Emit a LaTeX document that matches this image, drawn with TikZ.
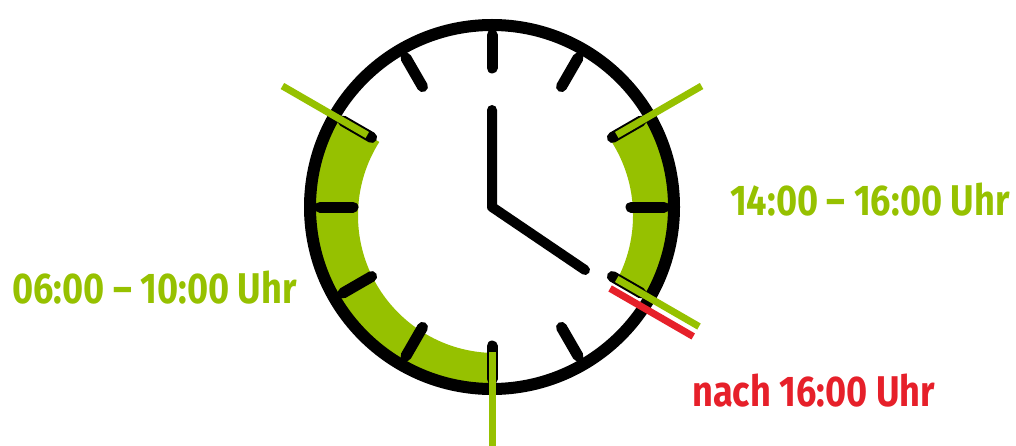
\documentclass[tikz,border=0pt]{standalone}
\usepackage{fontspec}
\setmainfont{Fira Sans}[FakeStretch=0.84]
\definecolor{bandgreen}{RGB}{150,193,0}
\definecolor{latered}{RGB}{230,32,42}
\tikzset{
  hourtick/.style={line width=11pt, line cap=round, black},
  hand/.style={line width=10pt, line cap=round, line join=round, black},
  limitline/.style={line width=7pt, bandgreen},
  timelabel/.style={anchor=base west, inner sep=0pt, font=\fontsize{43}{50}\selectfont\bfseries}
}
\begin{document}
\begin{tikzpicture}[x=1pt, y=1pt]
    \useasboundingbox (0,0) rectangle (1016,445);
    \begin{scope}[shift={(492,238)}]
        % Green bands
        \begin{scope}
            \clip (0,0) -- (150:260) arc (150:270:260) -- cycle;
            \fill[bandgreen, even odd rule] (0,0) circle (180) (3.5,-8.5) circle (137.5);
        \end{scope}
        \begin{scope}
            \clip (0,0) -- (-30:260) arc (-30:30:260) -- cycle;
            \fill[bandgreen, even odd rule] (0,0) circle (180) (3.5,-8.5) circle (137.5);
        \end{scope}

        % Clock face
        \draw[line width=12pt] (0,0) circle (182);
        \foreach \a in {0,30,...,330}
            \draw[hourtick] (\a:139) -- (\a:172);

        % Hands
        \draw[hand] (0,97) -- (0,0) -- (93,-63);

        % Limits of the time windows
        \foreach \a/\r in {150/242, 30/242, -30/239}
            \draw[limitline] (\a:144) -- (\a:\r);
        \draw[limitline] (270:145) -- (270:250);
        \begin{scope}[rotate=-30]
            \draw[limitline, latered] (143,-11.5) -- (239,-11.5);
        \end{scope}
    \end{scope}

    % Labels
    \node[timelabel, text=bandgreen] (morning) at (12,142) {06:00 – 10:00 Uhr};
    \node[timelabel, text=bandgreen] (afternoon) at (730,230) {14:00 – 16:00 Uhr};
    \node[timelabel, text=latered] (evening) at (692,39) {nach 16:00 Uhr};
\end{tikzpicture}
\end{document}
